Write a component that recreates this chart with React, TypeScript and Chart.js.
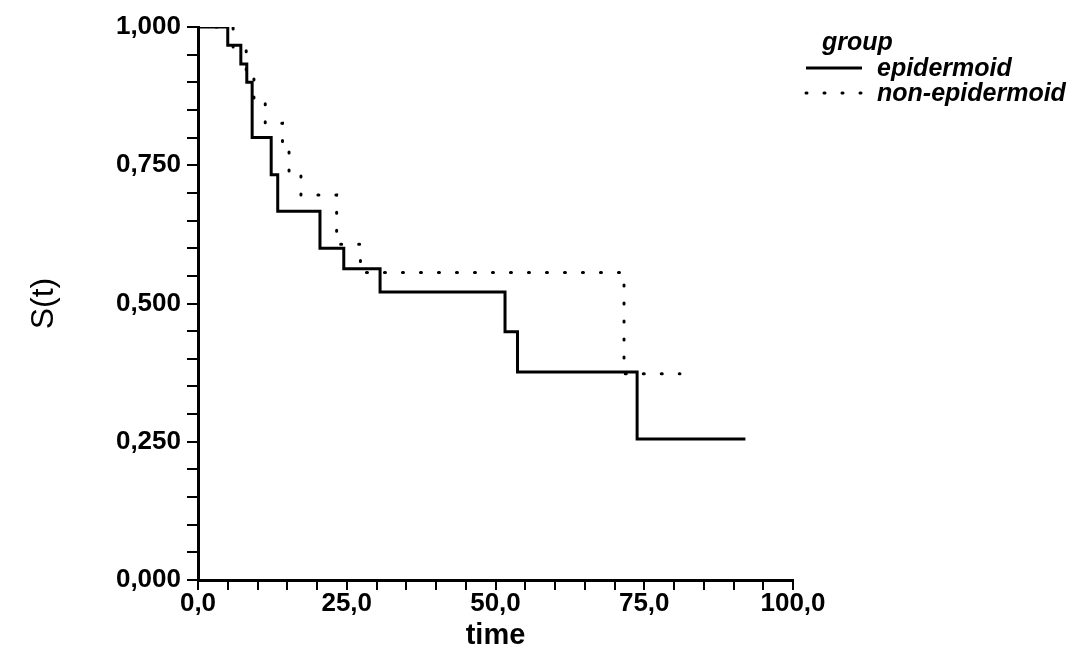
import React, { useEffect, useRef } from 'react';
import { Chart, registerables } from 'chart.js';

Chart.register(...registerables);

// ---- data ----
const groupNames = ['epidermoid', 'non-epidermoid'];
const legendTitle = 'group';
const xTitle = 'time';
const yTitle = 'S(t)';

const epiTimes = [0, 5.0, 7.2, 8.2, 9.1, 12.3, 13.4, 20.5, 24.5, 30.6, 51.6, 53.7, 73.8, 92.0];
const epiSurv = [1.0, 0.967, 0.933, 0.9, 0.8, 0.733, 0.667, 0.6, 0.563, 0.521, 0.449, 0.376, 0.255, 0.255];

const nonTimes = [0, 5.9, 8.1, 9.4, 11.3, 14.2, 15.3, 17.3, 23.3, 27.3, 71.6, 81.0];
const nonSurv = [1.0, 0.957, 0.913, 0.87, 0.826, 0.783, 0.739, 0.696, 0.607, 0.556, 0.373, 0.373];

const xLabelTicks = [0, 25, 50, 75, 100];
const yLabelTicks = [0, 0.25, 0.5, 0.75, 1.0];

const FONT = '"Liberation Sans", Arial, Helvetica, sans-serif';

const isLabelled = (v: number, list: number[]) => list.some((t) => Math.abs(t - v) < 1e-6);

const kmLegend = {
  id: 'kmLegend',
  afterDraw(chart: any) {
    const o = chart.options.plugins.kmLegend;
    const ctx = chart.ctx as CanvasRenderingContext2D;
    ctx.save();
    ctx.fillStyle = '#000';
    ctx.textAlign = 'left';
    ctx.textBaseline = 'alphabetic';
    ctx.font = `italic bold ${o.fontSize}px ${FONT}`;
    ctx.fillText(o.title, o.titleX, o.titleY);
    chart.data.datasets.forEach((ds: any, i: number) => {
      const base = o.firstY + i * o.rowGap;
      ctx.save();
      ctx.strokeStyle = ds.borderColor;
      ctx.lineWidth = ds.borderWidth;
      ctx.lineCap = ds.borderCapStyle || 'butt';
      ctx.setLineDash(ds.borderDash || []);
      ctx.beginPath();
      ctx.moveTo(o.lineX0, base - o.lineLift);
      ctx.lineTo(o.lineX1, base - o.lineLift);
      ctx.stroke();
      ctx.restore();
      ctx.fillText(ds.label, o.textX, base);
    });
    ctx.restore();
  },
};

export default function App() {
  const ref = useRef<HTMLCanvasElement | null>(null);

  useEffect(() => {
    if (!ref.current) return;
    const chart = new Chart(ref.current, {
      type: 'line',
      data: {
        datasets: [
          {
            label: groupNames[0],
            data: epiTimes.map((t, i) => ({ x: t, y: epiSurv[i] })),
            borderColor: '#000',
            borderWidth: 3,
            stepped: 'before',
            pointRadius: 0,
            fill: false,
          },
          {
            label: groupNames[1],
            data: nonTimes.map((t, i) => ({ x: t, y: nonSurv[i] })),
            borderColor: '#000',
            borderWidth: 3,
            borderDash: [1, 17],
            borderCapStyle: 'round',
            stepped: 'before',
            pointRadius: 0,
            fill: false,
          },
        ],
      },
      options: {
        responsive: false,
        animation: false,
        layout: { padding: { top: 27, right: 298, bottom: 0, left: 0 } },
        plugins: {
          legend: { display: false },
          tooltip: { enabled: false },
          kmLegend: {
            title: legendTitle,
            fontSize: 25,
            titleX: 822,
            titleY: 50,
            firstY: 76,
            rowGap: 25,
            lineX0: 806,
            lineX1: 862,
            lineLift: 8,
            textX: 877,
          },
        } as any,
        scales: {
          x: {
            type: 'linear',
            min: 0,
            max: 100,
            afterFit: (s: any) => {
              s.height = 75;
            },
            border: { display: true, color: '#000', width: 3 },
            grid: { drawOnChartArea: false, drawTicks: true, tickLength: 10, color: '#000', lineWidth: 2 },
            ticks: {
              stepSize: 5,
              autoSkip: false,
              maxRotation: 0,
              padding: -2,
              color: '#000',
              font: { family: FONT, size: 26, weight: 'bold' },
              callback: (v: any) => (isLabelled(Number(v), xLabelTicks) ? Number(v).toFixed(1).replace('.', ',') : ''),
            },
            title: {
              display: true,
              text: xTitle,
              color: '#000',
              font: { family: FONT, size: 29, weight: 'bold' },
              padding: { top: 0, bottom: 2 },
            },
          },
          y: {
            type: 'linear',
            min: 0,
            max: 1,
            afterFit: (s: any) => {
              s.width = 198;
            },
            border: { display: true, color: '#000', width: 3 },
            grid: { drawOnChartArea: false, drawTicks: true, tickLength: 11, color: '#000', lineWidth: 2 },
            ticks: {
              stepSize: 0.05,
              autoSkip: false,
              padding: 6,
              color: '#000',
              font: { family: FONT, size: 26, weight: 'bold' },
              callback: (v: any) => (isLabelled(Number(v), yLabelTicks) ? Number(v).toFixed(3).replace('.', ',') : ''),
            },
            title: {
              display: true,
              text: yTitle,
              color: '#000',
              font: { family: FONT, size: 32, weight: 'normal' },
              padding: { top: 25, bottom: 0 },
            },
          },
        },
      } as any,
      plugins: [kmLegend],
    });
    return () => chart.destroy();
  }, []);

  return (
    <div style={{ position: 'fixed', left: 0, top: 0, width: 1091, height: 655, background: '#fff' }}>
      <canvas ref={ref} width={1091} height={655} style={{ display: 'block' }} />
    </div>
  );
}
